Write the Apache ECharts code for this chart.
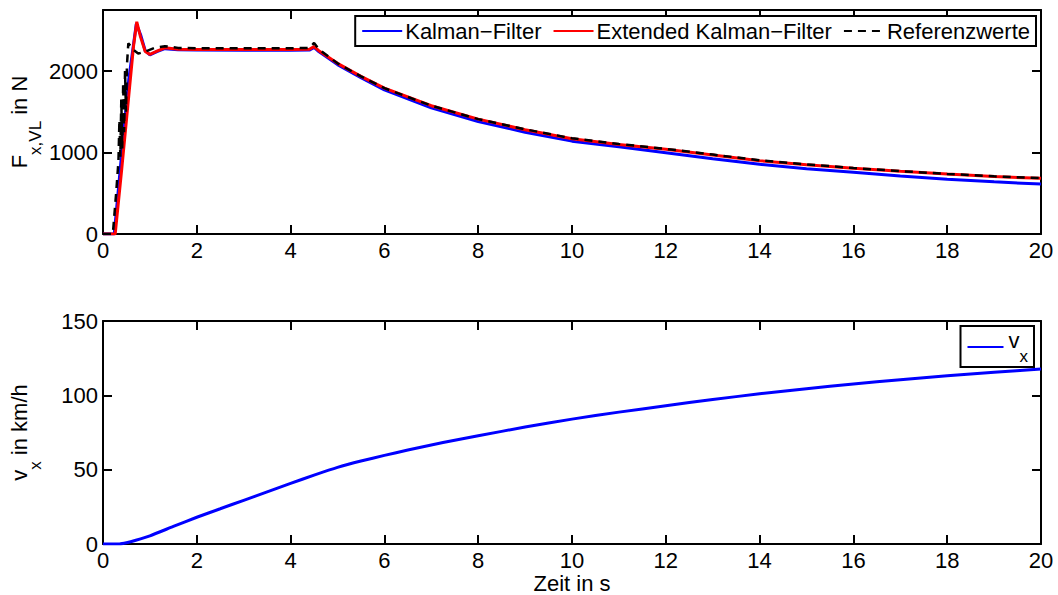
<!DOCTYPE html>
<html>
<head>
<meta charset="utf-8">
<script src="https://cdn.jsdelivr.net/npm/echarts@6/dist/echarts.min.js"></script>
<style>html,body{margin:0;padding:0;background:#fff}#c{width:1058px;height:595px}</style>
</head>
<body>
<div id="c"></div>
<script>
// ---- data ----
const xTicks = [0, 2, 4, 6, 8, 10, 12, 14, 16, 18, 20];
const forceTicks = [0, 1000, 2000];
const speedTicks = [0, 50, 100, 150];

const kfTime  = [0, 0.24, 0.4, 0.55, 0.71, 0.8, 0.9, 1.0, 1.15, 1.32, 1.6, 2, 3, 4, 4.4, 4.5, 4.6, 5, 5.5, 6, 7, 8, 9, 10, 11, 12, 13, 14, 15, 16, 17, 18, 19, 20];
const kfForce = [0, 0, 1000, 1900, 2580, 2450, 2250, 2200, 2240, 2275, 2262, 2258, 2256, 2255, 2258, 2290, 2240, 2080, 1920, 1770, 1550, 1380, 1250, 1140, 1070, 998, 925, 855, 800, 757, 712, 671, 640, 613];

const ekfTime  = [0, 0.26, 0.4, 0.55, 0.65, 0.72, 0.8, 0.9, 1.0, 1.15, 1.32, 1.6, 2, 3, 4, 4.4, 4.5, 4.6, 5, 5.5, 6, 7, 8, 9, 10, 11, 12, 13, 14, 15, 16, 17, 18, 19, 20];
const ekfForce = [0, 0, 800, 1700, 2300, 2605, 2420, 2240, 2205, 2245, 2286, 2268, 2265, 2265, 2265, 2268, 2300, 2250, 2095, 1935, 1790, 1575, 1410, 1280, 1170, 1100, 1040, 970, 900, 850, 806, 770, 736, 705, 683];

const refTime  = [0, 0.21, 0.28, 0.33, 0.35, 0.37, 0.39, 0.41, 0.43, 0.45, 0.47, 0.49, 0.51, 0.54, 0.6, 0.66, 0.75, 0.9, 1.1, 1.32, 1.6, 2, 3, 4, 4.4, 4.5, 4.6, 5, 5.5, 6, 7, 8, 9, 10, 11, 12, 13, 14, 15, 16, 17, 18, 19, 20];
const refForce = [0, 0, 500, 900, 1400, 950, 1650, 1050, 1850, 1250, 2000, 1500, 2070, 2340, 2300, 2255, 2215, 2240, 2285, 2305, 2285, 2280, 2280, 2280, 2285, 2345, 2270, 2095, 1935, 1790, 1575, 1410, 1285, 1175, 1105, 1045, 975, 905, 855, 810, 772, 738, 708, 685];

const speedTime  = [0, 0.35, 0.5, 0.7, 1, 1.5, 2, 2.5, 3, 3.5, 4, 4.5, 5, 5.5, 6, 6.5, 7, 7.5, 8, 9, 10, 11, 12, 13, 14, 15, 16, 17, 18, 19, 20];
const speedValue = [0, 0, 0.8, 2.5, 5.5, 11.8, 18, 23.7, 29.4, 35.1, 40.8, 46.3, 51.5, 55.8, 59.6, 63.2, 66.6, 69.8, 72.8, 78.7, 84, 88.7, 93, 97.2, 101, 104.5, 107.6, 110.5, 113.2, 115.6, 117.7];

// ---- chart ----
const zip = (a, b) => a.map((t, i) => [t, b[i]]);
const FONT = 'Liberation Sans, Arial, Helvetica, sans-serif';
const FS = 22;
const SUBRICH = {
  m: { fontSize: FS, fontFamily: FONT, color: '#000', lineHeight: 22, verticalAlign: 'top' },
  s: { fontSize: 17, fontFamily: FONT, color: '#000', lineHeight: 36, verticalAlign: 'bottom' }
};

function xAx(grid, pos, labels, extra) {
  return Object.assign({
    type: 'value', gridIndex: grid, position: pos, min: 0, max: 20, interval: 2,
    axisLine: { show: true, onZero: false, lineStyle: { color: '#000', width: 2 } },
    axisTick: { show: true, inside: true, length: 9, lineStyle: { color: '#000', width: 2 }, customValues: xTicks },
    axisLabel: { show: labels, color: '#000', fontSize: FS, fontFamily: FONT, margin: 5, customValues: xTicks,
                 formatter: v => String(v) },
    splitLine: { show: false }
  }, extra || {});
}
function yAx(grid, pos, max, interval, ticks, labels, extra) {
  return Object.assign({
    type: 'value', gridIndex: grid, position: pos, min: 0, max: max, interval: interval,
    axisLine: { show: true, onZero: false, lineStyle: { color: '#000', width: 2 } },
    axisTick: { show: true, inside: true, length: 9, lineStyle: { color: '#000', width: 2 }, customValues: ticks },
    axisLabel: { show: labels, color: '#000', fontSize: FS, fontFamily: FONT, margin: 5, customValues: ticks,
                 formatter: v => String(v) },
    splitLine: { show: false }
  }, extra || {});
}

const chart = echarts.init(document.getElementById('c'), null, { renderer: 'svg' });
chart.setOption({
  backgroundColor: '#fff',
  animation: false,
  textStyle: { fontFamily: FONT },
  grid: [
    { left: 103, top: 10, width: 938, height: 224, outerBoundsMode: 'none', containLabel: false },
    { left: 103, top: 321, width: 938, height: 223, outerBoundsMode: 'none', containLabel: false }
  ],
  xAxis: [
    xAx(0, 'bottom', true),
    xAx(0, 'top', false),
    xAx(1, 'bottom', true, {
      name: 'Zeit in s', nameLocation: 'middle', nameGap: 28,
      nameTextStyle: { color: '#000', fontSize: FS, fontFamily: FONT }
    }),
    xAx(1, 'top', false)
  ],
  yAxis: [
    yAx(0, 'left', 2750, 1000, forceTicks, true, {
      name: '{m|F}{s|x,VL}{m| in N}', nameLocation: 'middle', nameGap: 59, nameRotate: 90,
      nameMoveOverlap: false,
      nameTextStyle: { color: '#000', fontSize: FS, fontFamily: FONT, rich: SUBRICH }
    }),
    yAx(0, 'right', 2750, 1000, forceTicks, false),
    yAx(1, 'left', 150, 50, speedTicks, true, {
      name: '{m|v}{s|x}{m| in km/h}', nameLocation: 'middle', nameGap: 59, nameRotate: 90,
      nameMoveOverlap: false,
      nameTextStyle: { color: '#000', fontSize: FS, fontFamily: FONT, rich: SUBRICH }
    }),
    yAx(1, 'right', 150, 50, speedTicks, false)
  ],
  legend: [
    {
      data: ['Kalman−Filter', 'Extended Kalman−Filter', 'Referenzwerte'],
      right: 22, top: 16, orient: 'horizontal',
      itemWidth: 40, itemHeight: 14, itemGap: 11,
      padding: [4, 6, 4, 6],
      itemStyle: { opacity: 0 },
      borderColor: '#000', borderWidth: 2, backgroundColor: '#fff',
      textStyle: { color: '#000', fontSize: FS, fontFamily: FONT, padding: [0, 0, 0, -2] }
    },
    {
      data: ['v_x'],
      right: 24, top: 326,
      itemWidth: 36, itemHeight: 14,
      padding: [3, 6, 2, 6],
      itemStyle: { opacity: 0 },
      borderColor: '#000', borderWidth: 2, backgroundColor: '#fff',
      formatter: () => '{m|v}{s|x}',
      textStyle: { color: '#000', fontSize: FS, fontFamily: FONT, rich: SUBRICH }
    }
  ],
  series: [
    { name: 'Kalman−Filter', type: 'line', xAxisIndex: 0, yAxisIndex: 0, data: zip(kfTime, kfForce),
      showSymbol: false, symbol: 'none', lineStyle: { color: '#0000ff', width: 3 }, itemStyle: { color: '#0000ff' } },
    { name: 'Extended Kalman−Filter', type: 'line', xAxisIndex: 0, yAxisIndex: 0, data: zip(ekfTime, ekfForce),
      showSymbol: false, symbol: 'none', lineStyle: { color: '#ff0000', width: 3 }, itemStyle: { color: '#ff0000' } },
    { name: 'Referenzwerte', type: 'line', xAxisIndex: 0, yAxisIndex: 0, data: zip(refTime, refForce),
      showSymbol: false, symbol: 'none', lineStyle: { color: '#000', width: 2.5, type: [8, 6] }, itemStyle: { color: '#000' } },
    { name: 'v_x', type: 'line', xAxisIndex: 2, yAxisIndex: 2, data: zip(speedTime, speedValue),
      showSymbol: false, symbol: 'none', smooth: 0.2, lineStyle: { color: '#0000ff', width: 3 }, itemStyle: { color: '#0000ff' } }
  ]
});
</script>
</body>
</html>
